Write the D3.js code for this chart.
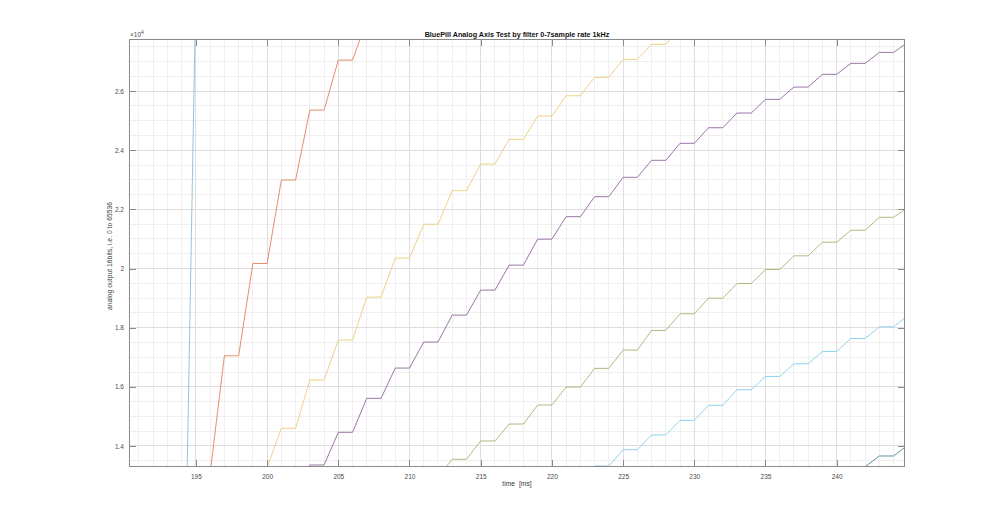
<!DOCTYPE html>
<html>
<head>
<meta charset="utf-8">
<script src="https://cdn.jsdelivr.net/npm/d3@7"></script>
<style>
  html, body { margin: 0; padding: 0; background: #ffffff; }
  svg { display: block; }
  text { font-family: "Liberation Sans", Arial, Helvetica, sans-serif; }
</style>
</head>
<body>
<svg id="chart" width="1000" height="526"></svg>
<script>
// ---------------- data ----------------
const timeMs = [194,195,196,197,198,199,200,201,202,203,204,205,206,207,208,209,210,211,212,213,214,215,216,217,218,219,220,
                221,222,223,224,225,226,227,228,229,230,231,232,233,234,235,236,237,238,239,240,241,242,243,244,245];

const filter0 = [2840,29640,29640,29640,null,null,null,null,null,null,null,null,null,null,null,null,null,null,null,null,null,null,null,null,null,null,null,
                 null,null,null,null,null,null,null,null,null,null,null,null,null,null,null,null,null,null,null,null,null,null,null,null,null];
const filter1 = [null,13090,13090,17051,17051,20170,20170,22993,22993,25358,25358,27047,27047,28392,28392,null,null,null,null,null,null,null,null,null,null,null,null,
                 null,null,null,null,null,null,null,null,null,null,null,null,null,null,null,null,null,null,null,null,null,null,null,null,null];
const filter2 = [null,null,null,11940,11940,13270,13270,14598,14598,16230,16230,17581,17581,19034,19034,20351,20351,21497,21497,22632,22632,23534,23534,24368,24368,25155,25155,
                 25841,25841,26463,26463,27071,27071,27578,27578,28130,28130,null,null,null,null,null,null,null,null,null,null,null,null,null,null,null];
const filter3 = [null,null,null,null,null,null,null,12258,12258,13358,13358,14463,14463,15611,15611,16635,16635,17514,17514,18426,18426,19270,19270,20115,20115,20993,20993,
                 21753,21753,22429,22429,23084,23084,23659,23659,24233,24233,24760,24760,25257,25257,25719,25719,26135,26135,26564,26564,26936,26936,27307,27307,27646];
const filter4 = [null,null,null,null,null,null,null,null,null,null,null,null,null,null,null,null,null,12960,12960,13550,13550,14170,14170,14743,14743,15385,15385,
                 15993,15993,16625,16625,17243,17243,17905,17905,18470,18470,18997,18997,19493,19493,19966,19966,20429,20429,20889,20889,21294,21294,21733,21733,22060];
const filter5 = [null,null,null,null,null,null,null,null,null,null,null,null,null,null,null,null,null,null,null,null,null,null,null,null,null,null,null,
                 12820,12820,13324,13324,13875,13875,14372,14372,14868,14868,15375,15375,15902,15902,16351,16351,16780,16780,17196,17196,17635,17635,18030,18030,18410];
const filter6 = [null,null,null,null,null,null,null,null,null,null,null,null,null,null,null,null,null,null,null,null,null,null,null,null,null,null,null,
                 null,null,null,null,null,null,null,null,null,null,null,null,null,null,null,null,null,null,12930,12930,13300,13300,13662,13662,14030];

const seriesNames = ["filter 0","filter 1","filter 2","filter 3","filter 4","filter 5","filter 6"];
const seriesValues = [filter0, filter1, filter2, filter3, filter4, filter5, filter6];
const seriesColors = ["#86b6d4","#e07a52","#ebca6e","#8a5c98","#98b46a","#7ccbeb","#4a7d8e"];

const xDomain = [190.3, 244.8];
const yDomain = [13290, 27760];
const xTicks = [195,200,205,210,215,220,225,230,235,240];
const xTickLabels = ["195","200","205","210","215","220","225","230","235","240"];
const yTicks = [14000,16000,18000,20000,22000,24000,26000];
const yTickLabels = ["1.4","1.6","1.8","2","2.2","2.4","2.6"];
const xMinorTicks = [191,192,193,194,196,197,198,199,201,202,203,204,206,207,208,209,211,212,213,214,216,217,218,219,
                     221,222,223,224,226,227,228,229,231,232,233,234,236,237,238,239,241,242,243,244];
const yMinorTicks = [13500,14500,15000,15500,16500,17000,17500,18500,19000,19500,20500,21000,21500,
                     22500,23000,23500,24500,25000,25500,26500,27000,27500];

const titleText = "BluePill Analog Axis Test by filter 0-7sample rate 1kHz";
const xLabelText = "time  [ms]";
const yLabelText = "analog output 16bits, i.e. 0 to 65536";

// ---------------- layout ----------------
const plot = { left: 129, right: 905, top: 39, bottom: 467 };
const svg = d3.select("#chart");

const x = d3.scaleLinear().domain(xDomain).range([plot.left, plot.right]);
const y = d3.scaleLinear().domain(yDomain).range([plot.bottom, plot.top]);

// minor grid
const grid = svg.append("g");
grid.selectAll("line.vminor").data(xMinorTicks).join("line")
  .attr("x1", d => x(d)).attr("x2", d => x(d))
  .attr("y1", plot.top).attr("y2", plot.bottom)
  .attr("stroke", "#efefef").attr("stroke-width", 1).attr("shape-rendering", "crispEdges");
grid.selectAll("line.hminor").data(yMinorTicks).join("line")
  .attr("y1", d => y(d)).attr("y2", d => y(d))
  .attr("x1", plot.left).attr("x2", plot.right)
  .attr("stroke", "#efefef").attr("stroke-width", 1).attr("shape-rendering", "crispEdges");
// major grid
grid.selectAll("line.vmajor").data(xTicks).join("line")
  .attr("x1", d => x(d)).attr("x2", d => x(d))
  .attr("y1", plot.top).attr("y2", plot.bottom)
  .attr("stroke", "#dedede").attr("stroke-width", 1).attr("shape-rendering", "crispEdges");
grid.selectAll("line.hmajor").data(yTicks).join("line")
  .attr("y1", d => y(d)).attr("y2", d => y(d))
  .attr("x1", plot.left).attr("x2", plot.right)
  .attr("stroke", "#dedede").attr("stroke-width", 1).attr("shape-rendering", "crispEdges");

// clip
svg.append("defs").append("clipPath").attr("id", "clip")
  .append("rect").attr("x", plot.left).attr("y", plot.top)
  .attr("width", plot.right - plot.left).attr("height", plot.bottom - plot.top);

const line = d3.line()
  .defined(d => d[1] !== null)
  .x(d => x(d[0])).y(d => y(d[1]));

svg.append("g").attr("clip-path", "url(#clip)")
  .selectAll("path").data(seriesValues).join("path")
  .attr("d", vals => line(timeMs.map((t, i) => [t, vals[i]])))
  .attr("fill", "none")
  .attr("stroke", (d, i) => seriesColors[i])
  .attr("stroke-width", 0.85)
  .attr("stroke-linejoin", "round");

// axes (box with inward ticks)
const axisColor = "#8a8a8a";
const tickLen = 7;
const axX = d3.axisBottom(x).tickValues(xTicks).tickFormat((d, i) => xTickLabels[i]).tickSizeInner(-tickLen).tickSizeOuter(0).tickPadding(7);
const axXTop = d3.axisTop(x).tickValues(xTicks).tickFormat("").tickSizeInner(-tickLen).tickSizeOuter(0);
const axY = d3.axisLeft(y).tickValues(yTicks).tickFormat((d, i) => yTickLabels[i]).tickSizeInner(-tickLen).tickSizeOuter(0).tickPadding(5);
const axYRight = d3.axisRight(y).tickValues(yTicks).tickFormat("").tickSizeInner(-tickLen).tickSizeOuter(0);

function styleAxis(g) {
  g.select(".domain").remove();
  g.selectAll(".tick line").attr("stroke", axisColor).attr("stroke-width", 1).attr("shape-rendering", "crispEdges");
  g.selectAll(".tick text").attr("fill", "#4a4a4a").style("font-size", "6.5px")
    .style("font-family", "'Liberation Sans', Arial, sans-serif");
}
svg.append("g").attr("transform", `translate(0,${plot.bottom})`).call(axX).call(styleAxis);
svg.append("g").attr("transform", `translate(0,${plot.top})`).call(axXTop).call(styleAxis);
svg.append("g").attr("transform", `translate(${plot.left},0)`).call(axY).call(styleAxis);
svg.append("g").attr("transform", `translate(${plot.right},0)`).call(axYRight).call(styleAxis);

svg.append("rect")
  .attr("x", plot.left + 0.5).attr("y", plot.top + 0.5)
  .attr("width", plot.right - plot.left - 1).attr("height", plot.bottom - plot.top - 1)
  .attr("fill", "none").attr("stroke", axisColor).attr("stroke-width", 1);

// exponent
const expo = svg.append("text").attr("x", plot.left + 1).attr("y", plot.top - 2)
  .attr("fill", "#4a4a4a").style("font-size", "6.5px");
expo.append("tspan").text("×10");
expo.append("tspan").attr("dy", -3).style("font-size", "5px").text("4");

// title
svg.append("text").attr("x", (plot.left + plot.right) / 2).attr("y", 36.5)
  .attr("text-anchor", "middle").attr("fill", "#111")
  .style("font-size", "7.2px").style("font-weight", "bold").text(titleText);

// x label
svg.append("text").attr("x", (plot.left + plot.right) / 2).attr("y", 486)
  .attr("text-anchor", "middle").attr("fill", "#3a3a3a")
  .style("font-size", "6.8px").style("white-space", "pre").attr("xml:space", "preserve").text(xLabelText);

// y label
svg.append("text")
  .attr("transform", `translate(112,${(plot.top + plot.bottom) / 2 + 3}) rotate(-90)`)
  .attr("text-anchor", "middle").attr("fill", "#3a3a3a")
  .style("font-size", "6.8px").text(yLabelText);
</script>
</body>
</html>
